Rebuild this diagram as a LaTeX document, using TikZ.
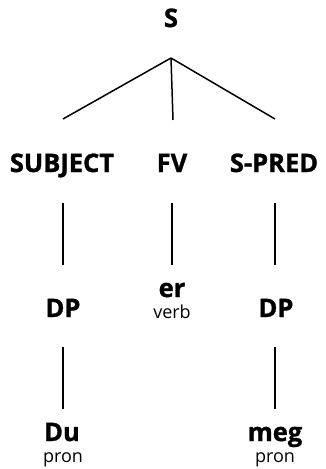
\documentclass[tikz,border=0pt]{standalone}
\usepackage{fontspec}
\setmainfont{Open Sans}[BoldFeatures={FakeBold=1.2}]
\usetikzlibrary{calc}
\begin{document}
\begin{tikzpicture}[x=1pt,y=1pt,
  big/.style={font=\fontsize{25.5}{27}\selectfont\bfseries, inner sep=0pt, anchor=base},
  small/.style={font=\fontsize{18}{20}\selectfont, inner sep=0pt, anchor=base},
  branch/.style={line width=1.5pt, line cap=butt}]
\useasboundingbox (0,0) rectangle (325,-469);
% nodes
\node[big] (S) at (171,-27) {S};
\node[big] (SUBJ) at (62,-172) {SUBJECT};
\node[big] (FV) at (172,-172) {FV};
\node[big] (SPRED) at (274,-172) {S-PRED};
\node[big] (DP1) at (63,-317) {DP};
\node[big] (ER) at (172,-297) {er};
\node[small] (VERB) at (172,-318) {verb};
\node[big] (DP2) at (276,-317) {DP};
\node[big] (DU) at (62,-441) {Du};
\node[small] (PRON1) at (63,-462) {pron};
\node[big] (MEG) at (275,-441) {meg};
\node[small] (PRON2) at (275,-462) {pron};
% line end points
\coordinate (apex) at ($(S.base)+(0,-31)$);
\coordinate (t1) at ($(SUBJ.base)+(1,53)$);
\coordinate (t2) at ($(FV.base)+(1,52)$);
\coordinate (t3) at ($(SPRED.base)+(1,53)$);
\draw[branch] (apex) -- (t1);
\draw[branch] (apex) -- (t2);
\draw[branch] (apex) -- (t3);
% vertical branches
\draw[branch] ($(SUBJ.base)+(1,-31)$) coordinate (a1) -- ($(DP1.base)+(0,52)$) coordinate (b1);
\draw[branch] ($(FV.base)+(0,-31)$) coordinate (a2) -- ($(ER.base)+(0,32)$) coordinate (b2);
\draw[branch] ($(SPRED.base)+(1,-31)$) coordinate (a3) -- ($(DP2.base)+(-1,52)$) coordinate (b3);
\draw[branch] ($(DP1.base)+(0,-30)$) coordinate (c1) -- ($(DU.base)+(1,32)$) coordinate (d1);
\draw[branch] ($(DP2.base)+(-1,-30)$) coordinate (c2) -- ($(MEG.base)+(0,32)$) coordinate (d2);
\end{tikzpicture}
\end{document}
